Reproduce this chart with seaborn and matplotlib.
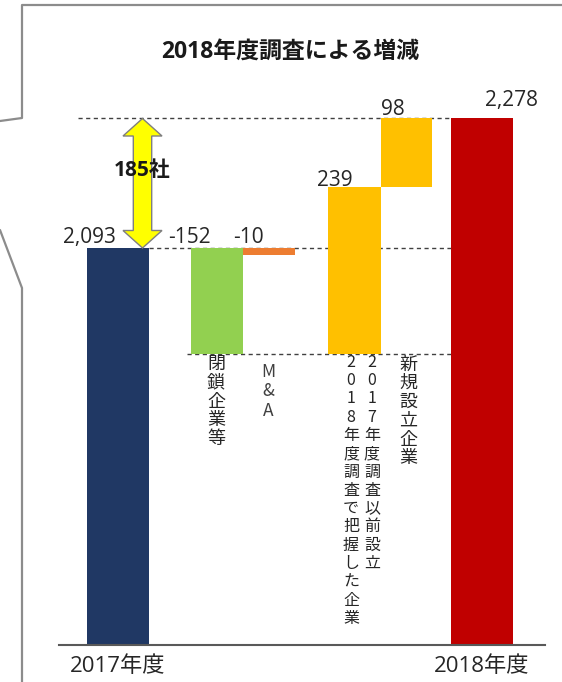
import matplotlib
matplotlib.use("Agg")
import matplotlib.pyplot as plt
import seaborn as sns
from matplotlib.lines import Line2D
from matplotlib.transforms import IdentityTransform, blended_transform_factory

# --- data ---
title = "2018年度調査による増減"
tick_labels = ["2017年度", "2018年度"]
total_2017 = 2093
total_2018 = 2278
change_closed = -152     # 閉鎖企業等
change_ma = -10          # M&A
change_before = 239      # 2017年度調査以前設立 / 2018年度調査で把握した企業
change_new = 98          # 新規設立企業
gap_label = "185社"

# waterfall bars: (bottom, top), in the order they are drawn
bar_bottom = [0, total_2017 + change_closed, total_2017 + change_ma,
              total_2017 + change_closed, total_2017 + change_closed + change_before, 0]
bar_top = [total_2017, total_2017, total_2017,
           total_2017 + change_closed + change_before, total_2018, total_2018]
bar_values = [total_2017, change_closed, change_ma, change_before, change_new, total_2018]
bar_colors = ["#203864", "#92D050", "#ED7D31", "#FFC000", "#FFC000", "#C00000"]

# --- layout (pixels of a 562x682 image) ---
W, H = 562, 682
bar_x = [118, 217, 269, 354.5, 406.5, 482]
bar_w = [62, 52, 52, 53, 51, 62]
label_dx = [-29, -28, -21, -19.5, -14, 29]
label_dy = [5, 5, 5, 1, 3, 12]
px_per_unit = 0.70
anchor_px = 248          # where 2,093 sits, from top

sns.set_theme(style="white")
plt.rcParams["font.family"] = ["Open Sans", "Noto Sans CJK JP", "DejaVu Sans"]

fig = plt.figure(figsize=(W / 100, H / 100), dpi=100)
ax_bottom, ax_top = 645, 20
ax = fig.add_axes([59 / W, (H - ax_bottom) / H, 486 / W, (ax_bottom - ax_top) / H])
ax.set_xlim(59, 545)
y_lo = total_2017 - (ax_bottom - anchor_px) / px_per_unit
ax.set_ylim(y_lo, y_lo + (ax_bottom - ax_top) / px_per_unit)

# bars
for x, w, b, t, c in zip(bar_x, bar_w, bar_bottom, bar_top, bar_colors):
    ax.bar(x, t - b, width=w, bottom=b, color=c, linewidth=0, zorder=2)

# value labels
for x, t, v, dx, dy in zip(bar_x, bar_top, bar_values, label_dx, label_dy):
    ax.annotate(f"{v:,}", (x, t), xytext=(dx, dy), textcoords="offset pixels",
                ha="center", va="baseline", fontsize=15, color="#262626")

# dashed guide lines
dash = dict(colors="#404040", linestyles=(0, (3, 2.5)), linewidth=1, zorder=1)
ax.hlines(total_2018, 78, 452, **dash)
ax.hlines(total_2017, 149, 452, **dash)
ax.hlines(total_2017 + change_closed, 187, 452, **dash)

# yellow double arrow between the two totals
cx, sh, hw = 142.5, 9.2, 19.5
hl = 17.5 / px_per_unit
lo, hi = total_2017, total_2018
ax.fill([cx, cx + hw, cx + sh, cx + sh, cx + hw, cx, cx - hw, cx - sh, cx - sh, cx - hw],
        [hi, hi - hl, hi - hl, lo + hl, lo + hl, lo, lo + hl, lo + hl, hi - hl, hi - hl],
        facecolor="#FFFF00", edgecolor="#7F7F7F", linewidth=1, zorder=4)
ax.text(cx, lo + 0.6 * (hi - lo), gap_label, ha="center", va="center",
        fontsize=15, fontweight="bold", color="#1a1a1a", zorder=5)

# vertical (stacked) category labels, one character per text
trans = blended_transform_factory(ax.transData, IdentityTransform())


def vtext(x, top, s, pitch, size, color="#262626"):
    for i, ch in enumerate(s):
        ax.text(x, H - (top + pitch * (i + 0.5)), ch, transform=trans, ha="center",
                va="center", fontsize=size, color=color, family="Noto Sans CJK JP")


vtext(216, 355, "閉鎖企業等", 18.6, 13)
vtext(268, 362, "M&A", 19.5, 12.5, "#404040")
vtext(372, 353, "2017年度調査以前設立", 18.3, 11.5)
vtext(351, 353, "2018年度調査で把握した企業", 18.3, 11.5)
vtext(408, 355, "新規設立企業", 18.8, 13)

# axes styling
ax.set_xticks([bar_x[0], bar_x[-1]], tick_labels, fontsize=16, color="#262626")
ax.tick_params(axis="x", length=0, pad=8)
ax.set_yticks([])
sns.despine(ax=ax, left=True)
ax.spines["bottom"].set_color("#595959")
ax.spines["bottom"].set_linewidth(1.5)
ax.patch.set_alpha(0)

fig.text(290 / W, 1 - 52 / H, title, ha="center", va="center", fontsize=16.5,
         fontweight="bold", color="#1a1a1a")

# callout frame around the panel
frame = dict(color="#8C8C8C", linewidth=1.6, transform=IdentityTransform())
fig.add_artist(Line2D([W, 22, 22, 0], [H - 5, H - 5, H - 118, H - 121], **frame))
fig.add_artist(Line2D([0, 22, 22], [H - 230, H - 288, 0], **frame))

fig.savefig("out.png", dpi=100)
